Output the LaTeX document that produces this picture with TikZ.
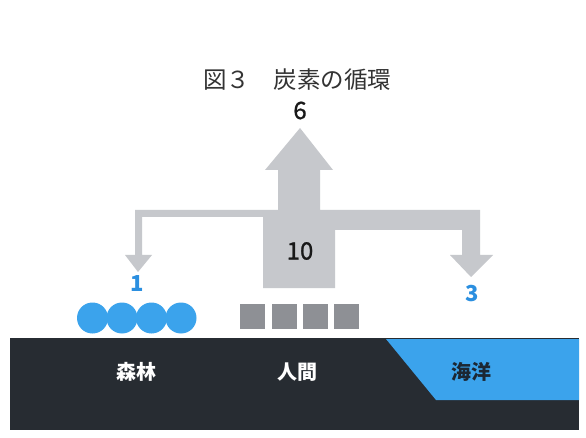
\documentclass[tikz,border=0pt]{standalone}
\usepackage{fontspec}
\setmainfont{Noto Sans CJK JP}
\definecolor{arrowgray}{HTML}{C6C8CC}
\definecolor{sqgray}{HTML}{8E9095}
\definecolor{bandcol}{HTML}{272C32}
\definecolor{oceancol}{HTML}{3BA3EC}
\definecolor{bluetext}{HTML}{2B8FE0}
\definecolor{darktext}{HTML}{1C2733}
\tikzset{
  num/.style={font=\fontsize{24}{24}\selectfont\addfontfeature{FakeBold=1}, text=black!90, inner sep=0pt},
  bluenum/.style={font=\fontsize{22}{22}\selectfont\bfseries, text=bluetext, inner sep=0pt},
  place/.style={font=\fontsize{20}{20}\selectfont\bfseries, inner sep=0pt},
  dot/.style={circle, fill=oceancol, minimum size=31pt, inner sep=0pt},
  sq/.style={rectangle, fill=sqgray, minimum width=25pt, minimum height=25pt, inner sep=0pt}
}
\begin{document}
\begin{tikzpicture}[x=1pt,y=-1pt]
\useasboundingbox (0,0) rectangle (586,438);
\fill[white] (0,0) rectangle (586,438);
% title
\node[font=\fontsize{23.5}{23.5}\selectfont, text=black!80, inner sep=0pt] (title) at (297,80) {図３　炭素の循環};
% arrow structure
\fill[arrowgray] (300,128) -- (333,170) -- (320,170) -- (320,210) -- (480,210) -- (480,255)
  -- (493,255) -- (471,277) -- (450,255) -- (462,255) -- (462,230) -- (335,230) -- (335,288)
  -- (263,288) -- (263,217) -- (142,217) -- (142,255) -- (152,255) -- (138,272) -- (125,255)
  -- (135,255) -- (135,210) -- (278,210) -- (278,170) -- (265,170) -- cycle;
\node[num] (six) at (300,110.5) {6};
\node[num] (ten) at (300,251) {10};
\node[bluenum] (one) at (137,284) {1};
\node[bluenum] (three) at (472,294) {3};
% circles
\node[dot] (c1) at (92.5,318) {};
\node[dot] (c2) at (122,318) {};
\node[dot] (c3) at (151.5,318) {};
\node[dot] (c4) at (181,318) {};
% squares
\node[sq] (s1) at (252.5,316.5) {};
\node[sq] (s2) at (284,316.5) {};
\node[sq] (s3) at (315.5,316.5) {};
\node[sq] (s4) at (346.5,316.5) {};
% band
\fill[bandcol] (10,338) rectangle (579,430);
\fill[oceancol] (386,339) -- (579,339) -- (579,400) -- (436,400) -- cycle;
\node[place, text=white] (forest) at (136,372) {森林};
\node[place, text=white] (human) at (297,372) {人間};
\node[place, text=darktext] (ocean) at (471,372) {海洋};
\end{tikzpicture}
\end{document}
